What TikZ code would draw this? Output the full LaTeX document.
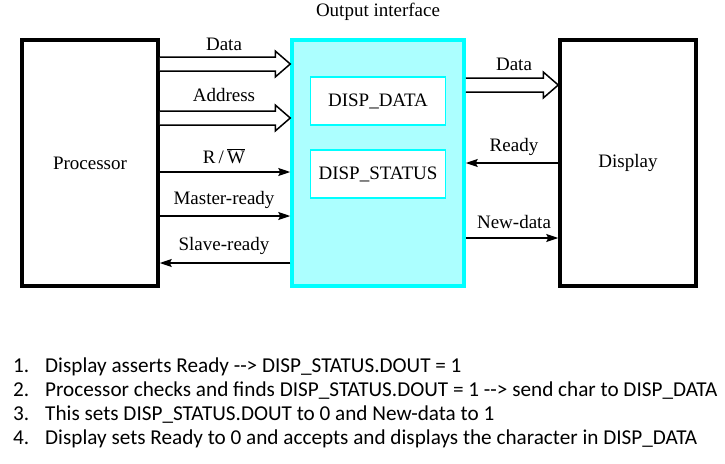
\documentclass[tikz,border=0pt]{standalone}
\usepackage{fontspec}
\setmainfont{Liberation Serif}
\newfontfamily\listfont{Carlito}
\usepackage{tikz}
\usetikzlibrary{arrows.meta, calc}
\definecolor{ifedge}{RGB}{0,255,255}
\definecolor{iffill}{RGB}{172,255,255}
\newcommand\arr{-\kern0pt-\kern0pt>}

\begin{document}
\begin{tikzpicture}
	[x=1pt, y=-1pt, font=\fontsize{19}{22}\selectfont,
	unit/.style={draw, line width=3.5pt, minimum width=136pt, minimum height=246pt},
	iface/.style={draw=ifedge, fill=iffill, line width=3.5pt, minimum width=172pt, minimum height=246pt},
	reg/.style={draw=ifedge, fill=white, line width=1.2pt, minimum width=135pt, minimum height=48pt},
	sig/.style={line width=1.5pt, -{Stealth[length=12pt, width=8pt, inset=2pt]}},
	bus/.style={line width=1.5pt, fill=white},
	lbl/.style={inner sep=0pt},
	item/.style={anchor=base west, inner sep=0pt, font=\listfont\fontsize{21.2}{24}\selectfont}]
	\useasboundingbox (0,0) rectangle (725,463);
	% boxes
	\node[unit]  (proc)  at (90, 163) {Processor};
	\node[iface] (out)   at (378, 163) {};
	\node[unit]  (disp)  at (628, 163) {Display};
	\node[reg]   (data)  at (378, 101) {DISP\_DATA};
	\node[reg]   (stat)  at (378, 174) {DISP\_STATUS};
	\node[lbl]   (title) at (378, 12) {Output interface};
	% buses
	\coordinate (db) at (proc.east |- 0,64);
	\coordinate (ab) at (proc.east |- 0,118);
	\coordinate (rb) at (out.east |- 0,85);
	\draw[bus] ($(db)+(0,-7)$) -- ($(out.west |- db)+(-15,-7)$) -- ++(0,-6) -- (out.west |- db)
		-- ($(out.west |- db)+(-15,13)$) -- ++(0,-6) -- ($(db)+(0,7)$);
	\draw[bus] ($(ab)+(0,-7)$) -- ($(out.west |- ab)+(-15,-7)$) -- ++(0,-6) -- (out.west |- ab)
		-- ($(out.west |- ab)+(-15,13)$) -- ++(0,-6) -- ($(ab)+(0,7)$);
	\draw[bus] ($(rb)+(0,-7)$) -- ($(disp.west |- rb)+(-15,-7)$) -- ++(0,-6) -- (disp.west |- rb)
		-- ($(disp.west |- rb)+(-15,13)$) -- ++(0,-6) -- ($(rb)+(0,7)$);
	% single lines
	\path (proc.east |- 0,172) edge[sig] (out.west |- 0,172);
	\path (proc.east |- 0,216) edge[sig] (out.west |- 0,216);
	\path (out.west |- 0,263) edge[sig] (proc.east |- 0,263);
	\path (disp.west |- 0,163) edge[sig] (out.east |- 0,163);
	\path (out.east |- 0,238) edge[sig] (disp.west |- 0,238);
	% labels
	\node[lbl] (ldata) at (224, 44) {Data};
	\node[lbl] (laddr) at (224, 95) {Address};
	\node[lbl] (lrw)   at (224, 156) {R\,/\,$\overline{\mbox{W}}$};
	\node[lbl] (lmr)   at (224, 200) {Master-ready};
	\node[lbl] (lsr)   at (224, 246) {Slave-ready};
	\node[lbl] (ldata2) at (514, 64) {Data};
	\node[lbl] (lrdy)  at (514, 147) {Ready};
	\node[lbl] (lnew)  at (514, 222) {New-data};
	% steps
	\node[item] (s1) at (13, 372) {\makebox[32pt][l]{1.}Display asserts Ready \arr{} DISP\_STATUS.DOUT = 1};
	\node[item] (s2) at (13, 396) {\makebox[32pt][l]{2.}Processor checks and finds DISP\_STATUS.DOUT = 1 \arr{} send char to DISP\_DATA};
	\node[item] (s3) at (13, 420) {\makebox[32pt][l]{3.}This sets DISP\_STATUS.DOUT to 0 and New-data to 1};
	\node[item] (s4) at (13, 444) {\makebox[32pt][l]{4.}Display sets Ready to 0 and accepts and displays the character in DISP\_DATA};
\end{tikzpicture}
\end{document}
